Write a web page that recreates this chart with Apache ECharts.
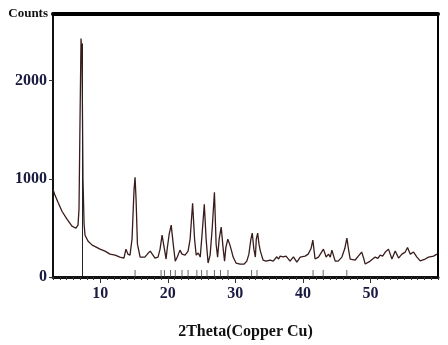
<!DOCTYPE html>
<html>
<head>
<meta charset="utf-8">
<script src="https://cdn.jsdelivr.net/npm/echarts@6/dist/echarts.min.js"></script>
<style>
html,body{margin:0;padding:0;background:#fff;}
#chart{width:448px;height:345px;}
</style>
</head>
<body>
<div id="chart"></div>
<script>
var twoTheta = [3.0,3.3,3.74,4.33,5.07,5.81,6.4,6.7,6.85,7.0,7.15,7.3,7.44,7.6,7.74,8.2,8.8,9.4,9.96,10.7,11.44,12.2,12.9,13.5,13.8,14.1,14.4,14.7,15.0,15.15,15.3,15.5,15.9,16.6,17.1,17.4,17.7,18.1,18.55,18.85,19.15,19.37,19.6,19.74,19.9,20.2,20.5,20.8,21.1,21.4,21.8,22.1,22.55,23.0,23.3,23.67,23.96,24.2,24.5,24.8,25.07,25.4,25.67,25.96,26.26,26.56,26.9,27.15,27.37,27.6,27.9,28.2,28.4,28.6,28.88,29.15,29.37,29.67,30.1,30.7,31.3,31.7,32.0,32.3,32.5,32.74,32.96,33.1,33.3,33.5,33.7,34.1,34.55,35.15,35.6,36.14,36.4,36.63,37.07,37.5,38.1,38.6,39.1,39.6,40.33,40.78,41.2,41.47,41.8,42.3,43.04,43.44,43.79,44.05,44.29,44.78,45.22,45.77,46.2,46.51,46.8,47.0,47.74,48.2,48.48,48.7,49.0,49.22,49.96,50.7,51.1,51.44,51.8,52.2,52.67,53.18,53.67,54.16,54.66,55.15,55.49,55.9,56.38,56.88,57.37,58.1,58.6,59.34,59.84];
var counts = [893,832,761,670,589,518,497,528,690,1600,2430,2210,995,540,426,365,325,305,284,264,233,223,203,193,284,233,223,386,893,1015,790,335,203,203,244,264,233,193,203,284,426,335,244,183,284,436,528,335,162,203,274,233,223,264,386,751,386,223,244,203,436,741,386,142,223,487,863,335,203,386,508,284,162,305,386,335,284,203,142,132,132,162,233,386,447,284,203,386,447,335,264,173,162,173,162,206,183,213,206,213,162,206,152,203,213,233,290,375,183,203,284,203,233,203,274,162,162,203,290,396,260,183,173,213,233,254,190,132,162,203,190,223,213,254,284,183,264,193,233,254,301,233,254,203,165,183,203,213,233];
var stickPositions = [15.15,19.0,19.5,20.4,21.1,22.1,23.0,24.3,25.0,25.8,26.9,27.8,28.9,32.4,33.2,41.5,43.0,46.5];
var stickHeight = 35;
var peakLine = 7.4;
var xMajorTicks = [10,20,30,40,50];
var yTicks = [0,1000,2000];

var lineData = twoTheta.map(function(x,i){return [x,counts[i]];});
var stickData = stickPositions.map(function(x){return [x,stickHeight];});
var plain = function(v){return String(v);};

var chart = echarts.init(document.getElementById('chart'), null, {renderer:'canvas'});
var serif = 'Liberation Serif';
chart.setOption({
  backgroundColor:'#ffffff',
  animation:false,
  grid:{left:53,right:10,top:14,bottom:67,show:true,borderColor:'#000',borderWidth:2},
  xAxis:[
    {type:'value',min:3,max:60,interval:1,position:'bottom',
     axisLine:{show:true,lineStyle:{color:'#111',width:3}},
     axisTick:{show:true,length:3,lineStyle:{color:'#333',width:1}},
     axisLabel:{show:false},splitLine:{show:false},
     name:'2Theta(Copper Cu)',nameLocation:'middle',nameGap:47,
     nameTextStyle:{fontFamily:serif,fontWeight:'bold',fontSize:16,color:'#111'}},
    {type:'value',min:3,max:60,position:'bottom',
     axisLine:{show:false},
     axisTick:{show:true,length:6,customValues:xMajorTicks,lineStyle:{color:'#333',width:1}},
     axisLabel:{show:true,customValues:xMajorTicks,formatter:plain,margin:9,fontFamily:serif,fontWeight:'bold',fontSize:16,color:'#1a1a40'},
     splitLine:{show:false}},
    {type:'value',min:3,max:60,position:'top',
     axisLine:{show:true,lineStyle:{color:'#000',width:4}},
     axisTick:{show:false},axisLabel:{show:false},splitLine:{show:false}}
  ],
  yAxis:[{type:'value',min:0,max:2680,position:'left',
     axisLine:{show:true,lineStyle:{color:'#111',width:2}},
     axisTick:{show:true,length:4,customValues:yTicks,lineStyle:{color:'#333'}},
     axisLabel:{show:true,customValues:yTicks,formatter:plain,margin:6,fontFamily:serif,fontWeight:'bold',fontSize:16,color:'#1a1a40'},
     splitLine:{show:false},
     name:'Counts',nameLocation:'end',nameGap:0,
     nameTextStyle:{fontFamily:serif,fontWeight:'bold',fontSize:13,color:'#111',align:'right',verticalAlign:'middle',padding:[0,5,0,0]}}
  ],
  series:[
    {type:'line',xAxisIndex:0,data:lineData,showSymbol:false,symbol:'none',smooth:false,
     lineStyle:{color:'#3a1c1c',width:1.3},
     markLine:{silent:true,symbol:'none',label:{show:false},
       lineStyle:{color:'#222',width:1,type:'solid'},
       data:[[{coord:[peakLine,0]},{coord:[peakLine,2380]}]]}},
    {type:'scatter',xAxisIndex:0,data:stickData,symbol:'rect',symbolSize:[1,7],
     itemStyle:{color:'#444'},silent:true}
  ]
});
</script>
</body>
</html>
